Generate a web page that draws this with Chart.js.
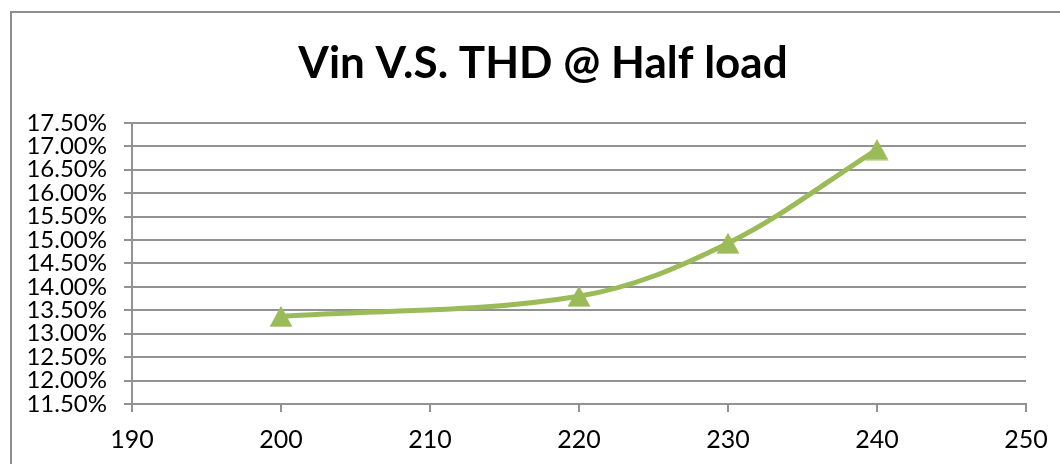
<!DOCTYPE html>
<html>
<head>
<meta charset="utf-8">
<script src="https://cdn.jsdelivr.net/npm/chart.js@4"></script>
<style>
  html, body { margin: 0; padding: 0; background: #fff; overflow: hidden; }
  body { width: 1060px; height: 464px; position: relative; }
  #frame { position: absolute; left: 10px; top: 11px; width: 1100px; height: 500px;
           border: 2px solid #8e8e8e; box-sizing: border-box; }
  #wrap { position: absolute; left: 0; top: 0; width: 1086px; height: 464px; }
</style>
</head>
<body>
<div id="frame"></div>
<div id="wrap"><canvas id="chart" width="1086" height="464"></canvas></div>
<script>
// Vin (V) against THD (%) at half load
const vin = [200, 220, 230, 240];
const thd = [13.37, 13.80, 14.93, 16.93];
const xTicks = [190, 200, 210, 220, 230, 240, 250];
const yMin = 11.5, yMax = 17.5, yStep = 0.5;

const green = '#9bbb59';
const gridGray = '#929292';

// Excel-style triangle marker: box centred on the point, not the centroid
const marker = document.createElement('canvas');
marker.width = 24;
marker.height = 22;
{
  const m = marker.getContext('2d');
  m.fillStyle = green;
  m.beginPath();
  m.moveTo(12, 0.5);
  m.lineTo(23.5, 21.5);
  m.lineTo(0.5, 21.5);
  m.closePath();
  m.fill();
}

const ctx = document.getElementById('chart').getContext('2d');
new Chart(ctx, {
  type: 'line',
  data: {
    datasets: [{
      label: 'THD',
      data: vin.map((v, i) => ({ x: v, y: thd[i] })),
      borderColor: green,
      backgroundColor: green,
      borderWidth: 5,
      tension: 0.35,
      pointStyle: marker,
      pointRadius: 12,
      fill: false
    }]
  },
  options: {
    responsive: false,
    animation: false,
    devicePixelRatio: 1,
    layout: { padding: 0 },
    plugins: {
      legend: { display: false },
      tooltip: { enabled: false },
      title: {
        display: true,
        text: 'Vin V.S. THD @ Half load',
        color: '#000',
        font: { family: 'Lato', size: 44, weight: 'bold' },
        padding: { top: 37, bottom: 33 }
      }
    },
    scales: {
      x: {
        type: 'linear',
        min: xTicks[0],
        max: xTicks[xTicks.length - 1],
        afterBuildTicks: s => { s.ticks = xTicks.map(v => ({ value: v })); },
        // keep the plot right edge at 1026 while the title stays centred on the full frame
        afterFit: s => { s.height = 60; s.paddingRight = 60; },
        grid: { drawOnChartArea: false, drawTicks: true, tickLength: 8, color: gridGray, lineWidth: 2 },
        border: { display: true, color: gridGray, width: 2 },
        ticks: { color: '#000', padding: 13, font: { family: 'Lato', size: 25 }, maxRotation: 0, autoSkip: false }
      },
      y: {
        min: yMin,
        max: yMax,
        afterFit: s => { s.width = 132; },
        grid: { drawOnChartArea: true, drawTicks: true, tickLength: 8, color: gridGray, lineWidth: 2 },
        border: { display: true, color: gridGray, width: 2 },
        ticks: {
          stepSize: yStep,
          autoSkip: false,
          color: '#000',
          padding: 17,
          font: { family: 'Lato', size: 24, lineHeight: 0.9 },
          callback: v => v.toFixed(2) + '%'
        }
      }
    }
  }
});
</script>
</body>
</html>
